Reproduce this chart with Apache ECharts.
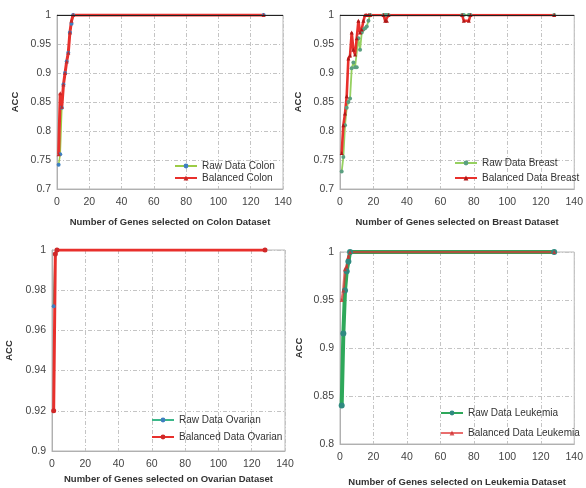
<!DOCTYPE html>
<html>
<head>
<meta charset="utf-8">
<script src="https://cdn.jsdelivr.net/npm/echarts@6/dist/echarts.min.js"></script>
<style>
html,body{margin:0;padding:0;background:#fff;}
#c{width:586px;height:488px;}
</style>
</head>
<body>
<div id="c"></div>
<script>
// ---- Data ----
const colonGenes    = [1, 2, 3, 4, 5, 6, 7, 8, 9, 10, 128];
const colonRaw      = [0.742, 0.76, 0.84, 0.88, 0.9, 0.92, 0.935, 0.97, 0.985, 1, 1];
const colonBalanced = [0.76, 0.865, 0.842, 0.88, 0.9, 0.92, 0.935, 0.97, 0.99, 1, 1];

const breastGenes    = [1, 2, 3, 4, 5, 6, 7, 8, 9, 10, 11, 12, 13, 14, 15, 16, 17, 18, 26, 27, 28, 29, 73, 74, 77, 78, 128];
const breastRaw      = [0.73, 0.755, 0.81, 0.84, 0.85, 0.856, 0.908, 0.918, 0.91, 0.91, 0.96, 0.94, 0.97, 0.975, 0.977, 0.98, 0.99, 1, 1, 1, 1, 1, 1, 1, 1, 1, 1];
const breastBalanced = [0.762, 0.81, 0.83, 0.86, 0.925, 0.93, 0.97, 0.94, 0.932, 0.96, 0.99, 0.97, 0.975, 0.99, 1, 1, 1, 1, 1, 0.99, 0.99, 1, 1, 0.99, 0.99, 1, 1];

const ovarianGenes    = [1, 2, 3, 128];
const ovarianRaw      = [0.972, 0.998, 1, 1];
const ovarianBalanced = [0.92, 0.998, 1, 1];

const leukemiaGenes    = [1, 2, 3, 4, 5, 6, 128];
const leukemiaRaw      = [0.84, 0.915, 0.96, 0.98, 0.99, 1, 1];
const leukemiaBalanced = [0.95, 0.96, 0.982, 0.985, 0.995, 1, 1];

const xTicks = [0, 20, 40, 60, 80, 100, 120, 140];

function pairs(xs, ys) { return xs.map((x, i) => [x, ys[i]]); }

const FONT = 'Liberation Sans';
const gridCol = '#c4c4c4';

function xAxis(idx, name, gap) {
  return {
    type: 'value', gridIndex: idx, min: xTicks[0], max: xTicks[xTicks.length - 1], interval: 20,
    name: name, nameLocation: 'middle', nameGap: gap,
    nameTextStyle: { fontFamily: FONT, fontSize: 9.5, fontWeight: 'bold', color: '#333' },
    axisLine: { lineStyle: { color: '#b0b0b0' } },
    axisTick: { show: false },
    axisLabel: { fontFamily: FONT, fontSize: 10.5, color: '#444', margin: 8 },
    splitLine: { show: true, lineStyle: { color: gridCol, type: [4, 2, 1, 2] } }
  };
}
function yAxis(idx, min, max, interval, gap) {
  return {
    type: 'value', gridIndex: idx, min: min, max: max, interval: interval,
    name: 'ACC', nameLocation: 'middle', nameGap: gap, nameRotate: 90,
    nameTextStyle: { fontFamily: FONT, fontSize: 9.5, fontWeight: 'bold', color: '#333' },
    axisLine: { show: true, lineStyle: { color: '#b0b0b0' } },
    axisTick: { show: false },
    axisLabel: { fontFamily: FONT, fontSize: 10.5, color: '#444', margin: 6 },
    splitLine: { show: true, lineStyle: { color: gridCol, type: [4, 2, 1, 2] } }
  };
}
const topLine = {
  silent: true, symbol: 'none', label: { show: false },
  lineStyle: { color: '#222', type: 'solid', width: 1 },
  data: [{ yAxis: 1 }]
};

function legend(names, left, top, gap) {
  return {
    data: names, orient: 'vertical', left: left, top: top, itemGap: gap,
    itemWidth: 22, itemHeight: 6,
    textStyle: { fontFamily: FONT, fontSize: 10, color: '#333' },
    padding: 0
  };
}

const chart = echarts.init(document.getElementById('c'), null, { renderer: 'canvas' });
chart.setOption({
  animation: false,
  backgroundColor: '#fff',
  grid: [
    { left: 57, right: 303, top: 15, bottom: 299, show: true, borderColor: '#b8b8b8', borderWidth: 1 },
    { left: 340, right: 10, top: 15, bottom: 299, show: true, borderColor: '#b8b8b8', borderWidth: 1 },
    { left: 52, right: 301, top: 250, bottom: 37, show: true, borderColor: '#b8b8b8', borderWidth: 1 },
    { left: 340, right: 10, top: 252, bottom: 40, show: true, borderColor: '#b8b8b8', borderWidth: 1 }
  ],
  xAxis: [
    xAxis(0, 'Number of Genes selected on Colon Dataset', 28),
    xAxis(1, 'Number of Genes selected on Breast Dataset', 28),
    xAxis(2, 'Number of Genes selected on Ovarian Dataset', 23),
    xAxis(3, 'Number of Genes selected on Leukemia Dataset', 33)
  ],
  yAxis: [
    yAxis(0, 0.7, 1, 0.05, 37),
    yAxis(1, 0.7, 1, 0.05, 37),
    yAxis(2, 0.9, 1, 0.02, 38),
    yAxis(3, 0.8, 1, 0.05, 36)
  ],
  legend: [
    legend(['Raw Data Colon', 'Balanced Colon'], 174, 161, 2),
    legend(['Raw Data Breast', 'Balanced Data Breast'], 454, 158, 5),
    legend(['Raw Data Ovarian', 'Balanced Data Ovarian'], 151, 415, 7),
    legend(['Raw Data Leukemia', 'Balanced Data Leukemia'], 440, 408, 10)
  ],
  series: [
    { name: 'Raw Data Colon', type: 'line', xAxisIndex: 0, yAxisIndex: 0,
      data: pairs(colonGenes, colonRaw), symbol: 'circle', symbolSize: 4,
      itemStyle: { color: '#3f7fbf' }, lineStyle: { color: '#9ccc45', width: 1.5 }, markLine: topLine },
    { name: 'Balanced Colon', type: 'line', xAxisIndex: 0, yAxisIndex: 0,
      data: pairs(colonGenes, colonBalanced), symbol: 'triangle', symbolSize: 4,
      itemStyle: { color: '#c82828' }, lineStyle: { color: '#e8302c', width: 3 } },

    { name: 'Raw Data Breast', type: 'line', xAxisIndex: 1, yAxisIndex: 1,
      data: pairs(breastGenes, breastRaw), symbol: 'circle', symbolSize: 4,
      itemStyle: { color: '#5aa080' }, lineStyle: { color: '#96d060', width: 1.8 }, markLine: topLine },
    { name: 'Balanced Data Breast', type: 'line', xAxisIndex: 1, yAxisIndex: 1,
      data: pairs(breastGenes, breastBalanced), symbol: 'triangle', symbolSize: 4,
      itemStyle: { color: '#b01818' }, lineStyle: { color: '#e8302c', width: 2.6 } },

    { name: 'Raw Data Ovarian', type: 'line', xAxisIndex: 2, yAxisIndex: 2,
      data: pairs(ovarianGenes, ovarianRaw), symbol: 'circle', symbolSize: 4,
      itemStyle: { color: '#3f7fbf' }, lineStyle: { color: '#3cb88a', width: 2 } },
    { name: 'Balanced Data Ovarian', type: 'line', xAxisIndex: 2, yAxisIndex: 2,
      data: pairs(ovarianGenes, ovarianBalanced), symbol: 'circle', symbolSize: 5,
      itemStyle: { color: '#d02828' }, lineStyle: { color: '#e8302c', width: 3 } },

    { name: 'Raw Data Leukemia', type: 'line', xAxisIndex: 3, yAxisIndex: 3,
      data: pairs(leukemiaGenes, leukemiaRaw), symbol: 'circle', symbolSize: 6,
      itemStyle: { color: '#2f8a80' }, lineStyle: { color: '#2ea85a', width: 4 } },
    { name: 'Balanced Data Leukemia', type: 'line', xAxisIndex: 3, yAxisIndex: 3,
      data: pairs(leukemiaGenes, leukemiaBalanced), symbol: 'triangle', symbolSize: 4,
      itemStyle: { color: '#d03030', opacity: 0.8 }, lineStyle: { color: '#e03030', width: 2.6, opacity: 0.7 } }
  ]
});
</script>
</body>
</html>
